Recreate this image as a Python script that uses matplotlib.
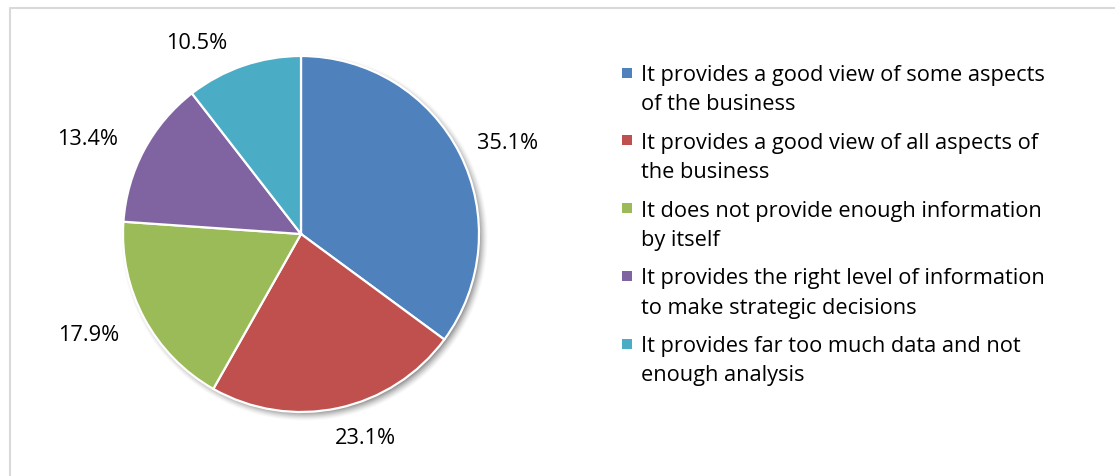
import numpy as np
import matplotlib
matplotlib.use("Agg")
import matplotlib.pyplot as plt
from matplotlib.patches import Rectangle

# Survey responses: how well does the report support the business?
categories = [
    ["It provides a good view of some aspects", "of the business"],
    ["It provides a good view of all aspects of", "the business"],
    ["It does not provide enough information", "by itself"],
    ["It provides the right level of information", "to make strategic decisions"],
    ["It provides far too much data and not", "enough analysis"],
]
shares = [35.1, 23.1, 17.9, 13.4, 10.5]
colors = ["#4F81BD", "#C0504D", "#9BBB59", "#8064A2", "#4BACC6"]

W, H = 1115, 477
plt.rcParams["font.family"] = ["Open Sans", "DejaVu Sans"]
FS = 15.7

fig = plt.figure(figsize=(W / 100, H / 100), dpi=100)
ax = fig.add_axes([0, 0, 1, 1])
ax.set_xlim(0, W)
ax.set_ylim(0, H)
ax.set_aspect("equal")
ax.axis("off")

# chart frame (only top and left edges fall inside the image)
ax.plot([9.5, 9.5, W], [0, H - 8.5, H - 8.5], color="#D9D9D9", lw=1.5,
        solid_capstyle="butt", zorder=1)

cx, cy, R = 301, H - 235, 178

# soft drop shadow below/right of the pie
yy, xx = np.mgrid[0:H, 0:W]
d = np.hypot(xx - (cx + 3), (H - 1 - yy) - (cy - 4))
shadow = np.clip((R + 6 - d) / 10.0, 0, 1) ** 1.5 * 0.45
rgba = np.zeros((H, W, 4))
rgba[..., 3] = shadow
ax.imshow(rgba, extent=(0, W, 0, H), origin="upper", zorder=2,
          interpolation="bilinear")

wedges, _ = ax.pie(shares, colors=colors, startangle=90, counterclock=False,
                   center=(cx, cy), radius=R, frame=True,
                   wedgeprops=dict(edgecolor="white", linewidth=1.6))
for w in wedges:
    w.set_zorder(3)
ax.set_xlim(0, W)
ax.set_ylim(0, H)
ax.axis("off")

# percentage labels placed just outside each wedge
nudges = [(2, -1), (17, -2), (-11, -3), (-11, -1), (-30, -3)]
start = 90.0
lw_, lh_ = 66, 20
for val, (nx, ny) in zip(shares, nudges):
    mid = np.deg2rad(start - val * 3.6 / 2)
    start -= val * 3.6
    c, s = np.cos(mid), np.sin(mid)
    px = cx + (R + 18) * c + lw_ / 2 * c + nx
    py = cy + (R + 18) * s + lh_ / 2 * s + ny
    ax.text(px, py, f"{val:.1f}%", ha="center", va="center",
            fontsize=FS, color="#000000", zorder=4)

# legend: square swatch + two wrapped lines per entry
entry_step = 67.75
line_step = 29.5
for i, (lines, col) in enumerate(zip(categories, colors)):
    top = 73.5 + i * entry_step          # swatch centre, pixels from top
    ax.add_patch(Rectangle((622, H - top - 5), 10, 10, facecolor=col,
                           edgecolor="none", zorder=4))
    for j, line in enumerate(lines):
        base = top + 7.5 + j * line_step
        ax.text(641, H - base, line, ha="left", va="baseline", fontsize=FS,
                color="#000000", zorder=4)

fig.savefig("out.png", dpi=100, facecolor="white")
